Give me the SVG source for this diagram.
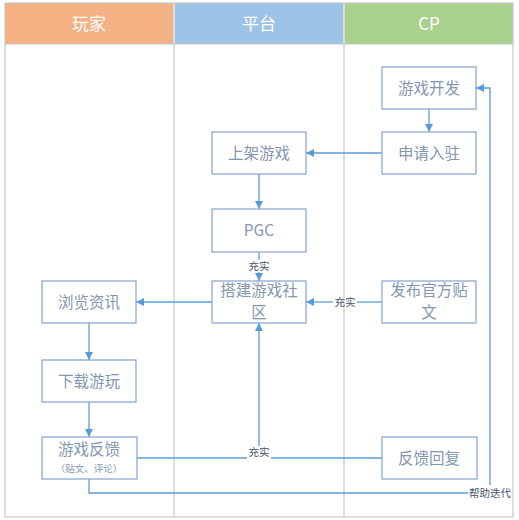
<svg xmlns="http://www.w3.org/2000/svg" width="519" height="520" viewBox="0 0 519 520">
<style>
.lane{fill:none;stroke:#c8c8c8;stroke-width:1.2}
.hdr{font-family:"Noto Sans CJK SC","Liberation Sans",sans-serif;font-size:17px;fill:#ffffff;text-anchor:middle}
.box{fill:#ffffff;stroke:#8eaad5;stroke-width:1.3}
.bt{font-family:"Noto Sans CJK SC","Liberation Sans",sans-serif;font-size:15.5px;fill:#8497b0;text-anchor:middle}
.st{font-family:"Noto Sans CJK SC","Liberation Sans",sans-serif;font-size:9.5px;fill:#8497b0;text-anchor:middle}
.ln{fill:none;stroke:#5b9bd5;stroke-width:1.3}
.lb{font-family:"Noto Sans CJK SC","Liberation Sans",sans-serif;font-size:10.5px;fill:#44546a;text-anchor:middle}
</style>
<defs>
<marker id="ah" viewBox="0 0 10 10" refX="10" refY="5" markerWidth="8" markerHeight="8" markerUnits="userSpaceOnUse" orient="auto">
<path d="M0,0 L10,5 L0,10 z" fill="#5b9bd5"/>
</marker>
</defs>
<rect width="519" height="520" fill="#ffffff"/>
<g id="lanes">
<rect x="5" y="3" width="168" height="41" fill="#f4b183"/>
<rect x="175" y="3" width="168" height="41" fill="#9dc3e6"/>
<rect x="345" y="3" width="168" height="41" fill="#a9d18e"/>
<text class="hdr" x="89" y="30">玩家</text>
<text class="hdr" x="259" y="30">平台</text>
<text class="hdr" x="429" y="30">CP</text>
<rect class="lane" x="5" y="3" width="508" height="514"/>
<line class="lane" x1="174" y1="3" x2="174" y2="517"/>
<line class="lane" x1="344" y1="3" x2="344" y2="517"/>
<line class="lane" x1="5" y1="44" x2="513" y2="44"/>
</g>
<g id="connectors">
<line class="ln" x1="429" y1="109" x2="429" y2="132" marker-end="url(#ah)"/>
<line class="ln" x1="382" y1="153" x2="306" y2="153" marker-end="url(#ah)"/>
<line class="ln" x1="259" y1="174" x2="259" y2="209" marker-end="url(#ah)"/>
<line class="ln" x1="259" y1="252" x2="259" y2="260"/>
<line class="ln" x1="259" y1="272" x2="259" y2="281" marker-end="url(#ah)"/>
<text class="lb" x="259" y="270">充实</text>
<line class="ln" x1="382" y1="302" x2="357" y2="302"/>
<line class="ln" x1="333" y1="302" x2="306" y2="302" marker-end="url(#ah)"/>
<text class="lb" x="345" y="306">充实</text>
<line class="ln" x1="212" y1="302" x2="136" y2="302" marker-end="url(#ah)"/>
<line class="ln" x1="89" y1="323" x2="89" y2="360" marker-end="url(#ah)"/>
<line class="ln" x1="89" y1="402" x2="89" y2="437" marker-end="url(#ah)"/>
<path class="ln" d="M137,458 H247"/>
<path class="ln" d="M382,458 H271"/>
<path class="ln" d="M259,446 V323" marker-end="url(#ah)"/>
<text class="lb" x="259" y="456">充实</text>
<path class="ln" d="M89,479 V493 H468"/>
<path class="ln" d="M490,485 V88 H476" marker-end="url(#ah)"/>
<text class="lb" x="490" y="497">帮助迭代</text>
</g>
<g id="n-dev"><rect class="box" x="382" y="67" width="94" height="42"/><text class="bt" x="429" y="94">游戏开发</text></g>
<g id="n-apply"><rect class="box" x="382" y="132" width="94" height="42"/><text class="bt" x="429" y="159">申请入驻</text></g>
<g id="n-list"><rect class="box" x="212" y="132" width="94" height="42"/><text class="bt" x="259" y="159">上架游戏</text></g>
<g id="n-pgc"><rect class="box" x="212" y="209" width="94" height="43"/><text class="bt" x="259" y="236">PGC</text></g>
<g id="n-community"><rect class="box" x="212" y="281" width="94" height="42"/><text class="bt" x="259" y="296">搭建游戏社</text><text class="bt" x="259" y="318">区</text></g>
<g id="n-post"><rect class="box" x="382" y="281" width="94" height="42"/><text class="bt" x="429" y="296">发布官方贴</text><text class="bt" x="429" y="318">文</text></g>
<g id="n-browse"><rect class="box" x="42" y="281" width="94" height="42"/><text class="bt" x="89" y="308">浏览资讯</text></g>
<g id="n-download"><rect class="box" x="42" y="360" width="94" height="42"/><text class="bt" x="89" y="387">下载游玩</text></g>
<g id="n-feedback"><rect class="box" x="42" y="437" width="95" height="42"/><text class="bt" x="89" y="455">游戏反馈</text><text class="st" x="89" y="472">（贴文、评论）</text></g>
<g id="n-reply"><rect class="box" x="382" y="437" width="95" height="42"/><text class="bt" x="429" y="464">反馈回复</text></g>
</svg>
